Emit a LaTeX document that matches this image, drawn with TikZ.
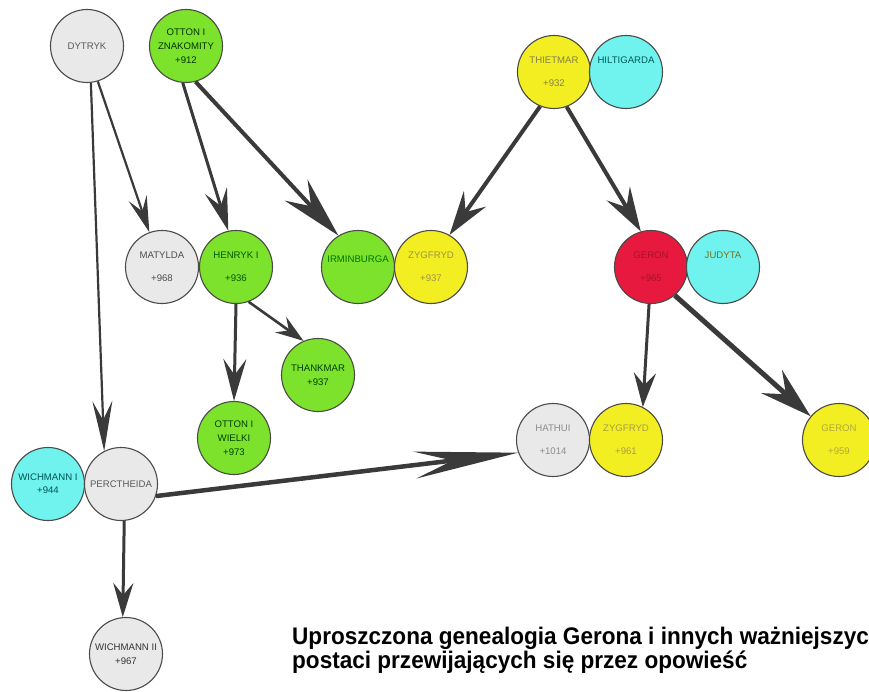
\documentclass[tikz,border=0pt]{standalone}
\usepackage{fontspec}
\setmainfont{Liberation Sans}
\newfontfamily\capfont[FakeStretch=0.94]{Liberation Sans}
\usetikzlibrary{arrows.meta}
\definecolor{cgray}{HTML}{E9E9E9}
\definecolor{cgreen}{HTML}{7DE22B}
\definecolor{cyel}{HTML}{F3EE22}
\definecolor{ccyan}{HTML}{70F3EE}
\definecolor{cred}{HTML}{E8193F}
\definecolor{cborder}{HTML}{4A4A46}
\definecolor{carrow}{HTML}{3A3A3A}
\newcommand\zb[1]{\makebox[0pt]{#1}}
\begin{document}
\begin{tikzpicture}[x=1pt,y=-1pt,
  pers/.style={circle, draw=cborder, line width=1.1pt, minimum size=73pt, inner sep=0pt,
    align=center, font=\fontsize{9.6}{14}\selectfont},
  pg/.style={pers, fill=cgray, text=#1},
  pgr/.style={pers, fill=cgreen, text=#1},
  py/.style={pers, fill=cyel, text=#1},
  pc/.style={pers, fill=ccyan, text=#1},
  pr/.style={pers, fill=cred, text=#1},
  arr/.style n args={4}{draw=carrow, line width=#1,
    -{Stealth[length=#2, width=#3, inset=#4]}},
  captext/.style={font=\capfont\bfseries\fontsize{24}{21.5}\selectfont, align=left, anchor=base west, inner sep=0pt}
]
\useasboundingbox (0,0) rectangle (869,692);
\clip (0,0) rectangle (869,692);
\fill[white] (0,0) rectangle (869,692);

% nodes
\node[pg={black!65}] (dyt) at (87,46) {\zb{DYTRYK}};
\node[pgr={black!80!green}] (ozn) at (186,46) {\zb{OTTON I}\\\zb{ZNAKOMITY}\\\zb{+912}};
\node[py={black!55!yellow}] (thi) at (554,72) {\zb{THIETMAR}\\[9pt]\zb{+932}};
\node[pc={teal!70!black}] (hil) at (626,72) {\zb{HILTIGARDA}\\[9pt]\phantom{+9}};
\node[pg={black!70}] (mat) at (162,267) {\zb{MATYLDA}\\[9pt]\zb{+968}};
\node[pgr={black!65!green}] (hen) at (236,267) {\zb{HENRYK I}\\[9pt]\zb{+936}};
\node[pgr={green!45!black}] (irm) at (358,267) {\zb{IRMINBURGA}\\[2pt]\phantom{+9}};
\node[py={black!45!yellow}] (zy1) at (431,267) {\zb{ZYGFRYD}\\[9pt]\zb{+937}};
\node[pr={cred!72!black}] (ger) at (651,267) {\zb{GERON}\\[9pt]\zb{+965}};
\node[pc={olive!80!black}] (jud) at (723,267) {\zb{JUDYTA}\\[9pt]\phantom{+9}};
\node[pgr={black!75!green}] (tha) at (318,375) {\zb{THANKMAR}\\\zb{+937}};
\node[pgr={black!75!green}] (owi) at (234,438) {\zb{OTTON I}\\\zb{WIELKI}\\\zb{+973}};
\node[pg={black!45}] (hat) at (553,440) {\zb{HATHUI}\\[9pt]\zb{+1014}};
\node[py={black!40!yellow}] (zy2) at (626,440) {\zb{ZYGFRYD}\\[9pt]\zb{+961}};
\node[py={black!35!yellow}] (ge2) at (839,440) {\zb{GERON}\\[9pt]\zb{+959}};
\node[pc={teal!65!black}] (wi1) at (48,484) {\zb{WICHMANN I}\\[-1pt]\zb{+944}};
\node[pg={black!65}] (per) at (121,484) {\zb{PERCTHEIDA}};
\node[pg={black!80}] (wi2) at (126,654) {\zb{WICHMANN II}\\\zb{+967}};

% connectors
\draw[arr={2.2pt}{36pt}{19pt}{14pt}] (dyt.-73) -- (mat.110);
\draw[arr={2.2pt}{50pt}{20pt}{19pt}] (dyt.-84) -- (per.117);
\draw[arr={3pt}{42pt}{23pt}{16pt}] (ozn.-95) -- (hen.102);
\draw[arr={4pt}{62pt}{31pt}{22pt}] (ozn.-75) -- (irm.122);
\draw[arr={4pt}{44pt}{27pt}{16pt}] (thi.-112) -- (zy1.60);
\draw[arr={4pt}{44pt}{27pt}{16pt}] (thi.-70) -- (ger.106);
\draw[arr={3pt}{42pt}{23pt}{16pt}] (hen.-90) -- (owi.90);
\draw[arr={2.6pt}{28pt}{19pt}{10pt}] (hen.-70) -- (tha.113);
\draw[arr={3pt}{34pt}{22pt}{12pt}] (ger.-93) -- (zy2.63);
\draw[arr={5pt}{52pt}{31pt}{19pt}] (ger.-50) -- (ge2.140);
\draw[arr={4.5pt}{104pt}{27pt}{38pt}] (per.-19) -- (hat.-160);
\draw[arr={3pt}{34pt}{20pt}{12pt}] (per.-85) -- (wi2.95);

% caption
\node[captext] (capt) at (292,668) {Uproszczona genealogia Gerona i innych ważniejszych\\postaci przewijających się przez opowieść};
\end{tikzpicture}
\end{document}
